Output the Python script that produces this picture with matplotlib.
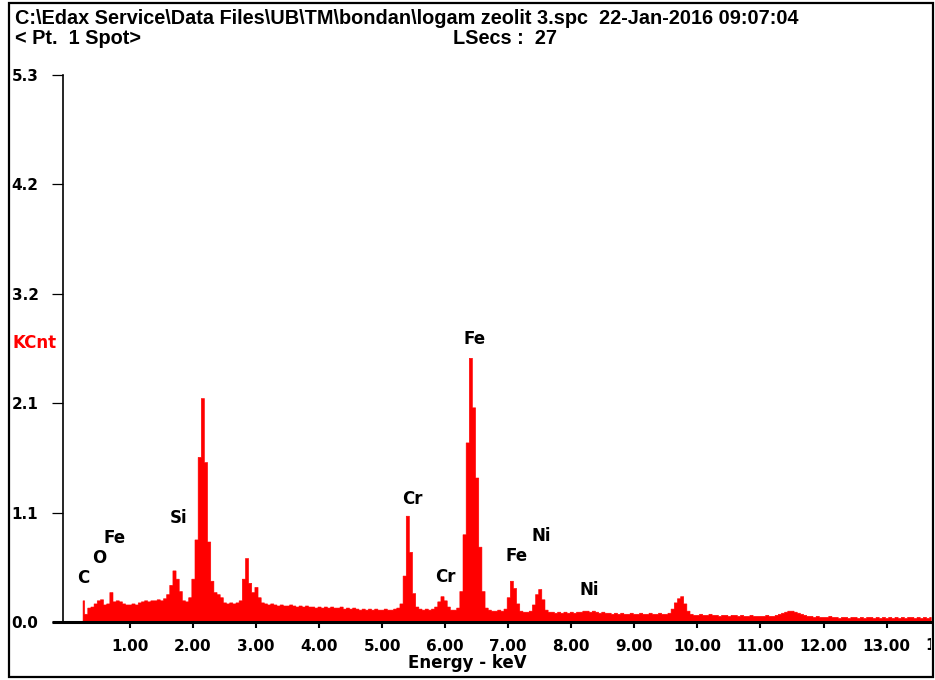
import numpy as np
import matplotlib
matplotlib.use("Agg")
import matplotlib.pyplot as plt
from matplotlib.transforms import Bbox, blended_transform_factory
from matplotlib.lines import Line2D
from matplotlib.patches import Rectangle

# ---------------- data ----------------
energy_start = 0.25   # keV, first channel
energy_step = 0.05    # keV per channel
counts = [  # KCnt
    0.21, 0.08, 0.14, 0.15, 0.18, 0.21, 0.22, 0.17, 0.18, 0.29, 0.20, 0.21, 0.20, 0.18, 0.17,
    0.17, 0.18, 0.17, 0.19, 0.20, 0.21, 0.20, 0.21, 0.21, 0.22, 0.21, 0.23, 0.27, 0.36, 0.50, 0.42, 0.30, 0.21, 0.20, 0.24,
    0.42, 0.80, 1.60, 2.17, 1.55, 0.78, 0.40, 0.29, 0.27, 0.24, 0.19, 0.18, 0.19, 0.18, 0.19, 0.21, 0.42, 0.62, 0.38, 0.29,
    0.34, 0.24, 0.19, 0.18, 0.17, 0.18, 0.17, 0.16, 0.17, 0.16, 0.16, 0.17, 0.16, 0.15, 0.16, 0.15, 0.16, 0.15, 0.15, 0.14,
    0.15, 0.14, 0.15, 0.14, 0.15, 0.14, 0.14, 0.15, 0.13, 0.14, 0.13, 0.14, 0.13, 0.12, 0.13, 0.12, 0.13, 0.12, 0.13, 0.12,
    0.12, 0.13, 0.12, 0.12, 0.13, 0.14, 0.18, 0.45, 1.03, 0.68, 0.28, 0.15, 0.13, 0.12, 0.13, 0.12, 0.13, 0.15, 0.20, 0.25,
    0.21, 0.15, 0.12, 0.12, 0.14, 0.30, 0.85, 1.74, 2.56, 2.08, 1.40, 0.73, 0.30, 0.14, 0.12, 0.11, 0.11, 0.12, 0.11, 0.13,
    0.24, 0.40, 0.33, 0.18, 0.11, 0.10, 0.10, 0.11, 0.17, 0.27, 0.32, 0.22, 0.12, 0.10, 0.10, 0.09, 0.10, 0.09, 0.10, 0.09,
    0.10, 0.09, 0.10, 0.10, 0.11, 0.11, 0.10, 0.11, 0.10, 0.09, 0.10, 0.09, 0.09, 0.08, 0.09, 0.08, 0.09, 0.08, 0.08, 0.09,
    0.08, 0.08, 0.09, 0.08, 0.08, 0.09, 0.08, 0.08, 0.09, 0.08, 0.08, 0.09, 0.13, 0.19, 0.23, 0.25, 0.18, 0.11, 0.08, 0.07,
    0.07, 0.08, 0.07, 0.07, 0.08, 0.07, 0.07, 0.06, 0.07, 0.07, 0.06, 0.07, 0.07, 0.06, 0.07, 0.06, 0.06, 0.07, 0.06, 0.06,
    0.06, 0.06, 0.07, 0.06, 0.06, 0.07, 0.08, 0.09, 0.10, 0.11, 0.11, 0.10, 0.09, 0.08, 0.07, 0.06, 0.06, 0.05, 0.06, 0.05,
    0.05, 0.05, 0.06, 0.05, 0.05, 0.04, 0.05, 0.05, 0.04, 0.05, 0.05, 0.04, 0.05, 0.04, 0.05, 0.05, 0.04, 0.05, 0.04, 0.05,
    0.04, 0.05, 0.04, 0.05, 0.04, 0.05, 0.04, 0.05, 0.05, 0.04, 0.05, 0.04, 0.05, 0.04, 0.05,
]

xtick_values = [1, 2, 3, 4, 5, 6, 7, 8, 9, 10, 11, 12, 13]
xtick_labels = ["1.00", "2.00", "3.00", "4.00", "5.00", "6.00", "7.00",
                "8.00", "9.00", "10.00", "11.00", "12.00", "13.00"]
ytick_values = [0.0, 1.06, 2.12, 3.18, 4.24, 5.3]
ytick_labels = ["0.0", "1.1", "2.1", "3.2", "4.2", "5.3"]

peak_names = ["C", "O", "Fe", "Si", "Cr", "Cr", "Fe", "Fe", "Ni", "Ni"]
peak_label_x = [0.26, 0.51, 0.75, 1.77, 5.48, 6.01, 6.47, 7.14, 7.52, 8.28]
peak_label_y = [0.43, 0.62, 0.81, 1.01, 1.19, 0.44, 2.74, 0.64, 0.83, 0.31]

header_line1 = "C:\\Edax Service\\Data Files\\UB\\TM\\bondan\\logam zeolit 3.spc  22-Jan-2016 09:07:04"
header_line2 = "< Pt.  1 Spot>"
header_lsecs = "LSecs :  27"

# ---------------- figure ----------------
W, H = 935, 680
fig = plt.figure(figsize=(W / 100, H / 100), dpi=100)
fig.patch.set_facecolor("white")

ax_left, ax_right, ax_bottom, ax_top = 63, 932, 622, 75
ax = fig.add_axes([ax_left / W, (H - ax_bottom) / H,
                   (ax_right - ax_left) / W, (ax_bottom - ax_top) / H])

energy = energy_start + energy_step * np.arange(len(counts))
ax.fill_between(energy, 0, counts, step="mid", facecolor="#ff0000",
                edgecolor="#ff0000", linewidth=0.4, antialiased=False)

ax.set_xlim(-0.06, 13.72)
ax.set_ylim(0, 5.3)

for s in ["top", "right", "bottom"]:
    ax.spines[s].set_visible(False)
ax.spines["left"].set_linewidth(1.2)

bold = dict(family="DejaVu Sans", weight="bold")

ax.set_xticks(xtick_values)
ax.set_xticklabels(xtick_labels, fontsize=11, **bold)
ax.tick_params(axis="x", direction="out", length=4.5, width=1.5, pad=8)

ax.set_yticks(ytick_values)
ax.set_yticklabels(ytick_labels, fontsize=11, ha="left", **bold)
ax.tick_params(axis="y", direction="out", length=8, width=0.9, pad=29)

# x axis baseline extends left of the y axis
fig.add_artist(Line2D([52 / W, ax_right / W], [(H - 622) / H] * 2,
                      color="black", linewidth=2.2, solid_capstyle="butt"))

# clipped 14.00 label at the right edge
t = ax.text(14.0, (H - 645) / H, "14.00", fontsize=11, ha="center", va="center",
            transform=blended_transform_factory(ax.transData, fig.transFigure), **bold)
t.set_clip_on(True)
t.set_clip_box(Bbox([[0, 0], [931, H]]))

# axis labels
fig.text(467 / W, (H - 663) / H, "Energy - keV", fontsize=12, ha="center", va="center", **bold)
fig.text(13 / W, (H - 343) / H, "KCnt", fontsize=12, ha="left", va="center",
         color="#ff0000", **bold)

# peak labels
for name, px, py in zip(peak_names, peak_label_x, peak_label_y):
    ax.text(px, py, name, fontsize=12, ha="center", va="center", **bold)

# header
narrow = dict(family=["Liberation Sans Narrow", "Liberation Sans"], weight="bold")
fig.text(15 / W, (H - 18) / H, header_line1, fontsize=14.3, ha="left", va="center", **narrow)
fig.text(15 / W, (H - 38) / H, header_line2, fontsize=14.3, ha="left", va="center", **narrow)
fig.text(453 / W, (H - 38) / H, header_lsecs, fontsize=14.3, ha="left", va="center", **narrow)

# border
fig.add_artist(Rectangle((9 / W, 3 / H), 924 / W, 674 / H, transform=fig.transFigure,
                         fill=False, edgecolor="black", linewidth=1.6))

fig.savefig("out.png", dpi=100)
